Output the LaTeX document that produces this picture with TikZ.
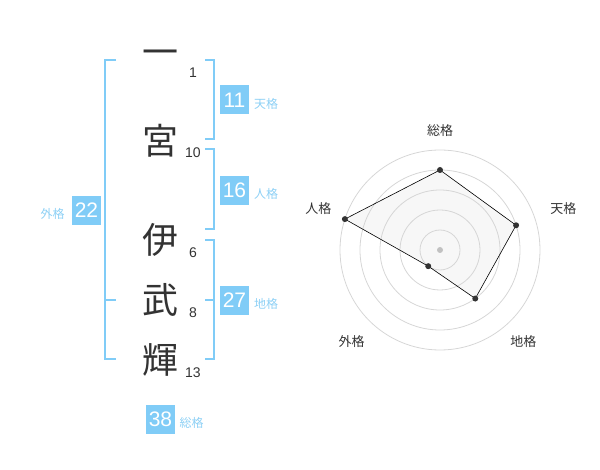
\documentclass[tikz,border=0pt]{standalone}
\usepackage{fontspec}
\setmainfont{Liberation Sans}
\newfontfamily\jp{Noto Sans CJK JP}
\definecolor{kakublue}{HTML}{80CCF7}
\definecolor{kakutext}{HTML}{8DD0F5}
\definecolor{moji}{HTML}{333333}
\definecolor{ring}{HTML}{D6D6D6}
\tikzset{
  kanji/.style={text=moji, inner sep=0pt, font=\jp\fontsize{36}{36}\selectfont},
  kakusu/.style={text=moji, inner sep=0pt, font=\fontsize{14}{14}\selectfont},
  kakubox/.style={fill=kakublue, text=white, minimum size=29pt, inner sep=0pt, font=\fontsize{21}{21}\selectfont},
  kakuname/.style={text=kakutext, inner sep=0pt, font=\jp\fontsize{12}{12}\selectfont},
  bracket/.style={draw=kakublue, line width=2pt},
  radarname/.style={text=moji, inner sep=0pt, font=\jp\fontsize{13}{13}\selectfont}
}
\begin{document}
\begin{tikzpicture}[x=1pt, y=-1pt]
\useasboundingbox (0,0) rectangle (600,470);

\foreach \c/\y/\n/\m [count=\i] in {一/58/1/73, 宮/141/10/153, 伊/240/6/253, 武/300/8/313, 輝/360/13/373}
{
    \node[kanji] (c\i) at (160,\y) {\c};
    \node[kakusu] (n\i) at (193,\m) {\n};
}

\draw[bracket] (116,60)--(105,60)--(105,359)--(116,359);
\draw[bracket] (105,300)--(116,300);
\draw[bracket] (205,60)--(214,60)--(214,139)--(205,139);
\draw[bracket] (205,149)--(214,149)--(214,229)--(205,229);
\draw[bracket] (205,240)--(214,240)--(214,359)--(205,359);
\draw[bracket] (205,300)--(214,300);

\foreach \v/\x/\y/\k/\lx/\ly in {11/234.5/100/天格/266/104, 16/234.5/190.3/人格/266/194, 22/86.5/210.3/外格/52.7/214, 27/234.5/300.3/地格/266/304, 38/160.5/419.3/総格/191.7/422.7}
{
    \node[kakubox] (b\v) at (\x,\y) {\v};
    \node[kakuname] (k\v) at (\lx,\ly) {\k};
}

\begin{scope}[shift={(440,250)}, y=1pt]
\foreach \name/\a/\v in {sou/90/4, ten/18/4, chi/-54/3, gai/-126/1, jin/162/5}
{
    \coordinate (p\name) at (\a:{\v*20});
}
\fill[gray!6] (psou)--(pten)--(pchi)--(pgai)--(pjin)--cycle;
\foreach \r in {20,40,...,100}
{
    \draw[ring, line width=0.8pt] (0,0) circle (\r pt);
}
\fill[ring!90!black] (0,0) circle (3pt);
\draw[line width=0.6pt] (psou)--(pten)--(pchi)--(pgai)--(pjin)--cycle;
\foreach \name in {sou,ten,chi,gai,jin}
{
    \fill[moji] (p\name) circle (3pt);
}
\foreach \name/\k/\x/\y in {sou/総格/0/119.3, ten/天格/123.3/41.7, chi/地格/83.3/-91.7, gai/外格/-88.3/-91.7, jin/人格/-121.7/41.7}
{
    \node[radarname] (l\name) at (\x,\y) {\k};
}
\end{scope}
\end{tikzpicture}
\end{document}
